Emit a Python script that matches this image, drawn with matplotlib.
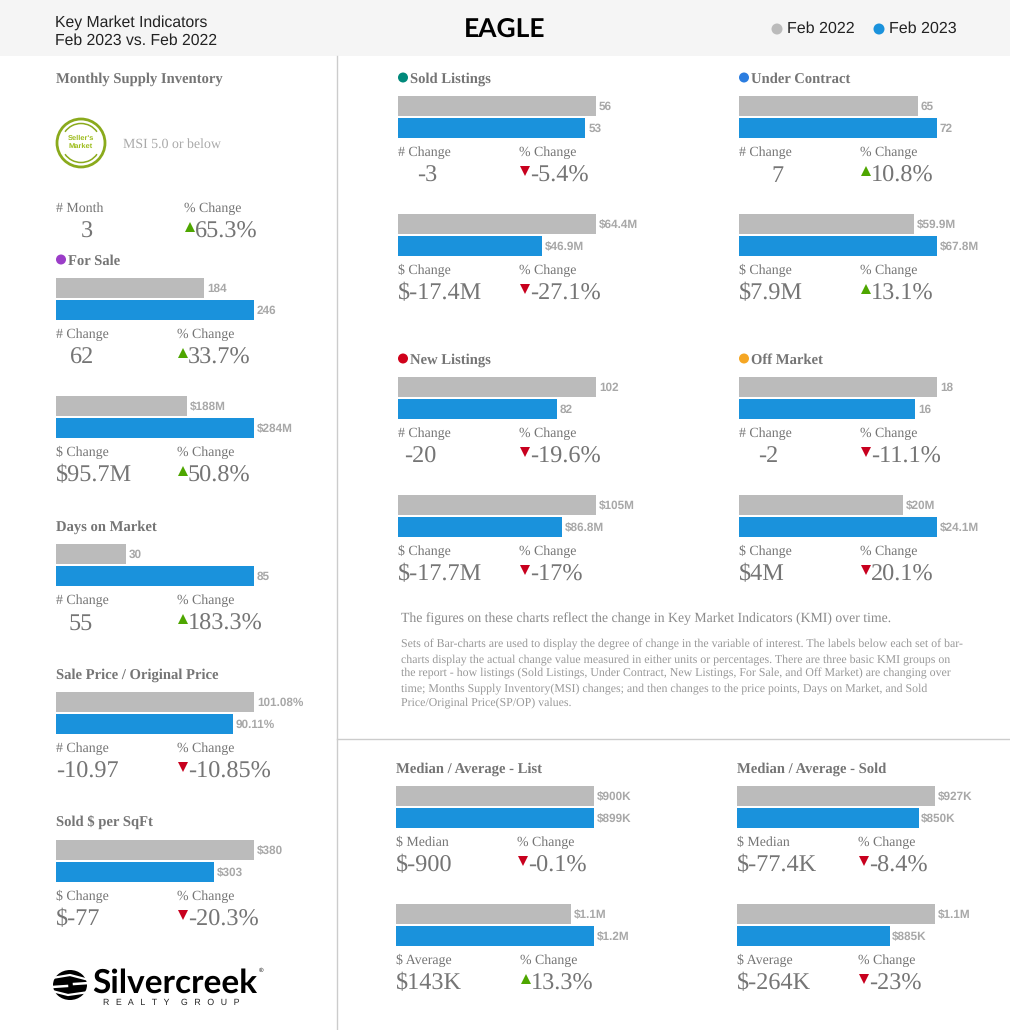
import matplotlib
matplotlib.use('Agg')
import matplotlib.pyplot as plt
from matplotlib.patches import Rectangle, Circle, Arc, Ellipse

plt.rcParams['text.hinting'] = 'no_hinting'

W, H = 1010, 1030
SERIF = 'Liberation Serif'
SANS = 'Liberation Sans'
GRAY = '#bbbbbb'
BLUE = '#1a92dc'
UP = '#4ea600'
DOWN = '#c8001e'
TEXT = '#757575'

# panels, left column first, then the right hand columns row by row
prev_values = [184, 188, 30, 101.08, 380,
               56, 65, 64.4, 59.9, 102, 18, 105, 20,
               900, 927, 1075, 1149]
curr_values = [246, 284, 85, 90.11, 303,
               53, 72, 46.9, 67.8, 82, 16, 86.8, 24.1,
               899, 850, 1218, 885]
prev_labels = ['184', '$188M', '30', '101.08%', '$380',
               '56', '65', '$64.4M', '$59.9M', '102', '18', '$105M', '$20M',
               '$900K', '$927K', '$1.1M', '$1.1M']
curr_labels = ['246', '$284M', '85', '90.11%', '$303',
               '53', '72', '$46.9M', '$67.8M', '82', '16', '$86.8M', '$24.1M',
               '$899K', '$850K', '$1.2M', '$885K']
change_titles = ['# Change', '$ Change', '# Change', '# Change', '$ Change',
                 '# Change', '# Change', '$ Change', '$ Change',
                 '# Change', '# Change', '$ Change', '$ Change',
                 '$ Median', '$ Median', '$ Average', '$ Average']
change_values = ['62', '$95.7M', '55', '-10.97', '$-77',
                 '-3', '7', '$-17.4M', '$7.9M', '-20', '-2', '$-17.7M', '$4M',
                 '$-900', '$-77.4K', '$143K', '$-264K']
pct_values = ['33.7%', '50.8%', '183.3%', '-10.85%', '-20.3%',
              '-5.4%', '10.8%', '-27.1%', '13.1%', '-19.6%', '-11.1%', '-17%', '20.1%',
              '-0.1%', '-8.4%', '13.3%', '-23%']
pct_up = [True, True, True, False, False,
          False, True, False, True, False, False, False, False,
          False, False, True, False]

# where each panel sits, in pixels
panel_x = [56, 56, 56, 56, 56,
           398, 739, 398, 739, 398, 739, 398, 739,
           396, 737, 396, 737]
panel_y = [277, 395, 543, 691, 839,
           95, 95, 213, 213, 376, 376, 494, 494,
           785, 785, 903, 903]
value_dx = [26, 0, 25, 0, 0,
            29, 38, 0, 0, 22, 29, 0, 0,
            0, 0, 0, 0]
pct_dx = [121, 121, 121, 121, 121,
          121, 121, 121, 121, 121, 121, 121, 121,
          121, 121, 124, 121]

section_names = ['Monthly Supply Inventory', 'For Sale', 'Days on Market',
                 'Sale Price / Original Price', 'Sold $ per SqFt',
                 'Sold Listings', 'Under Contract', 'New Listings', 'Off Market',
                 'Median / Average - List', 'Median / Average - Sold']
section_colors = [None, '#9b3dc8', None, None, None,
                  '#00897b', '#2b7de0', '#d0021b', '#f5a623', None, None]
section_x = [56, 56, 56, 56, 56, 398, 739, 398, 739, 396, 737]
section_y = [78, 260, 526, 674, 822, 78, 78, 359, 359, 768, 768]

legend_labels = ['Feb 2022', 'Feb 2023']
legend_colors = [GRAY, BLUE]
note_title = 'The figures on these charts reflect the change in Key Market Indicators (KMI) over time.'
note_lines = ['Sets of Bar-charts are used to display the degree of change in the variable of interest. The labels below each set of bar-',
              'charts display the actual change value measured in either units or percentages. There are three basic KMI groups on',
              'the report - how listings (Sold Listings, Under Contract, New Listings, For Sale, and Off Market) are changing over',
              'time; Months Supply Inventory(MSI) changes; and then changes to the price points, Days on Market, and Sold',
              'Price/Original Price(SP/OP) values.']


def trend(ax, x, y, up):
    marker = '^' if up else 'v'
    ax.plot([x + 5.5], [y], marker=marker, color=UP if up else DOWN, ms=7.5, mew=0, ls='none')


def stat_block(ax, x, y, title, value, dx):
    ax.text(x, y + 4, title, family=SERIF, fontsize=10, color=TEXT, va='baseline')
    if dx:
        ax.text(x + dx, y + 29.5, value, family=SERIF, fontsize=17.5, color=TEXT, va='baseline', ha='center')
    else:
        ax.text(x, y + 29.5, value, family=SERIF, fontsize=17.5, color=TEXT, va='baseline')


def pct_block(ax, x, y, value, up):
    ax.text(x, y + 4, '% Change', family=SERIF, fontsize=10, color=TEXT, va='baseline')
    trend(ax, x, y + 19, up)
    ax.text(x + 11, y + 29.5, value, family=SERIF, fontsize=17.5, color=TEXT, va='baseline')


def bar_panel(fig, x, y, prev, curr, prev_lab, curr_lab):
    bar_ax = fig.add_axes([x / W, 1 - (y + 44) / H, 198 / W, 44 / H])
    bar_ax.patch.set_alpha(0)
    bars = bar_ax.barh([0, 1], [prev, curr], height=0.94, color=[GRAY, BLUE])
    bar_ax.set_ylim(1.5, -0.5)
    bar_ax.set_xlim(0, max(prev, curr))
    bar_ax.axis('off')
    labs = bar_ax.bar_label(bars, labels=[prev_lab, curr_lab], padding=2, family=SANS, fontsize=8.5,
                            fontweight='bold', color='#a8a8a8', clip_on=False)
    for t in labs:
        t.xyann = (2, -0.5)


fig = plt.figure(figsize=(W / 100, H / 100), dpi=100)
ax = fig.add_axes([0, 0, 1, 1])
ax.set_xlim(0, W)
ax.set_ylim(H, 0)
ax.axis('off')

# header
ax.add_patch(Rectangle((0, 0), W, 56, color='#f5f5f5', lw=0))
ax.text(55, 27, 'Key Market Indicators', family=SANS, fontsize=11.3, color='#222222', va='baseline')
ax.text(55, 45, 'Feb 2023 vs. Feb 2022', family=SANS, fontsize=11.3, color='#222222', va='baseline')
ax.text(505, 37, 'EAGLE', family='Lato', fontsize=19, fontweight='bold', color='black', va='baseline', ha='center')
for lx, lab, col in zip([777, 879], legend_labels, legend_colors):
    ax.add_patch(Circle((lx, 29), 5.5, color=col, lw=0))
    ax.text(lx + 10, 33, lab, family=SANS, fontsize=11.5, color='#222222', va='baseline')

# dividers
ax.plot([337, 337], [56, H], color='#cccccc', lw=1)
ax.plot([337, W], [739, 739], color='#cccccc', lw=1)

# section headings
for name, col, sx, sy in zip(section_names, section_colors, section_x, section_y):
    ax.text(sx + (12 if col else 0), sy + 4.5, name, family=SERIF, fontsize=10.5, fontweight='bold', color=TEXT, va='baseline')
    if col:
        ax.add_patch(Circle((sx + 5, sy - 0.5), 5, color=col, lw=0))

# seller's market badge
green = '#8aaa1c'
ax.add_patch(Circle((81, 143), 24, fill=False, ec=green, lw=2))
ax.add_patch(Arc((81, 143), 39, 39, theta1=35, theta2=145, ec=green, lw=1.1))
ax.add_patch(Arc((81, 143), 39, 39, theta1=215, theta2=325, ec=green, lw=1.1))
ax.text(81, 138.5, "Seller's", family=SANS, fontsize=5.4, fontweight='bold', color='#9cbc1a', ha='center', va='center')
ax.text(81, 146.5, 'Market', family=SANS, fontsize=5.4, fontweight='bold', color='#9cbc1a', ha='center', va='center')
ax.text(123, 148, 'MSI 5.0 or below', family=SERIF, fontsize=10, color='#aaaaaa', va='baseline')
stat_block(ax, 56, 208, '# Month', '3', 31)
pct_block(ax, 184, 208, '65.3%', True)

# bars and their change figures
for i in range(len(prev_values)):
    x, y = panel_x[i], panel_y[i]
    bar_panel(fig, x, y, prev_values[i], curr_values[i], prev_labels[i], curr_labels[i])
    stat_block(ax, x, y + 57, change_titles[i], change_values[i], value_dx[i])
    pct_block(ax, x + pct_dx[i], y + 57, pct_values[i], pct_up[i])

# explanation
ax.text(401, 622, note_title, family=SERIF, fontsize=9.95, color='#8a8a8a', va='baseline')
for k, line in enumerate(note_lines):
    ax.text(401, 647.5 + k * 14.6, line, family=SERIF, fontsize=8.55, color='#999999', va='baseline')

# logo
ax.add_patch(Ellipse((70, 985), 34, 30, color='black', lw=0))
ax.plot([52, 70, 89], [978, 975, 980], color='white', lw=1.6)
ax.plot([52, 68, 89], [991, 995, 992], color='white', lw=1.6)
ax.plot([52, 67], [987, 986], color='white', lw=1.8)
ax.plot([74, 89], [984, 983], color='white', lw=1.8)
ax.text(92, 993, 'Silvercreek', family='Lato', fontsize=24, fontweight='bold', color='black', va='baseline')
ax.text(259, 970, '\u00ae', family=SANS, fontsize=4.5, color='black', va='center')
ax.text(103, 1005, 'R\u2009  E\u2009  A\u2009  L\u2009  T\u2009  Y\u2009    G\u2009  R\u2009  O\u2009  U\u2009  P', family=SANS, fontsize=6.3, color='#222222', va='baseline')

fig.savefig('out.png', dpi=100)
